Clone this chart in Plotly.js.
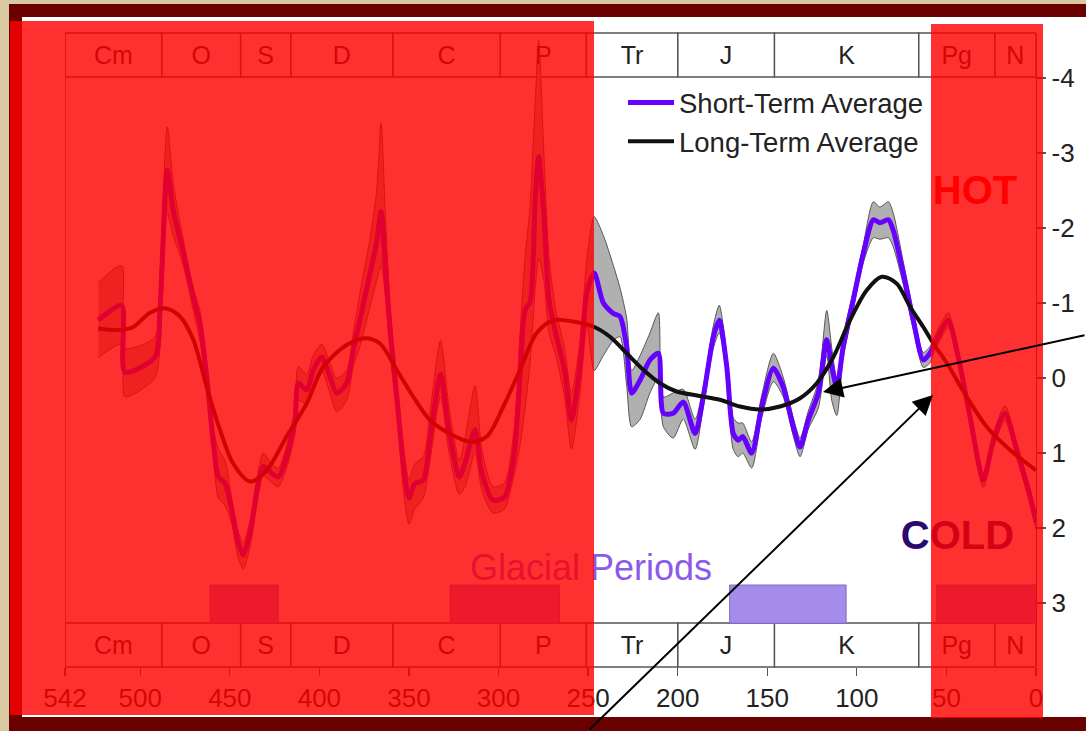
<!DOCTYPE html>
<html>
<head>
<meta charset="utf-8">
<script src="https://cdn.plot.ly/plotly-3.0.1.min.js"></script>
<style>
  html, body { margin: 0; padding: 0; background: #d9c9a3; }
  #chart { width: 1086px; height: 731px; }
</style>
</head>
<body>
<div id="chart"></div>
<script>
// ---------------- DATA ----------------
// Geologic periods (Ma)
const periodNames = ['Cm', 'O', 'S', 'D', 'C', 'P', 'Tr', 'J', 'K', 'Pg', 'N'];
const periodStart = [542, 488, 444, 416, 359, 299, 251, 200, 146, 65.5, 23];
const periodEnd   = [488, 444, 416, 359, 299, 251, 200, 146, 65.5, 23, 0];

// Glacial periods (Ma)
const glacialStart = [461, 327, 171, 55.4];
const glacialEnd   = [423, 266, 106, 0];

// Short-term average (age Ma, temperature anomaly)
const shortAges = [
  523.4, 510.4, 508.5, 491.8, 489.0, 484.9, 481.6, 476.0, 470.4, 466.7,
  462.9, 459.2, 456.4, 452.7, 448.9, 445.3, 442.5, 438.7, 435.0, 431.3,
  426.6, 422.9, 418.3, 413.6, 411.8, 407.1, 403.4, 398.7, 394.1, 390.4,
  384.8, 381.1, 377.6, 371.8, 368.0, 365.6, 363.2, 360.3, 356.4, 352.6,
  350.0, 346.8, 342.0, 338.2, 332.4, 327.6, 321.9, 318.7, 313.1, 309.3,
  303.1, 296.8, 291.4, 288.0, 285.2, 282.4, 279.5, 277.6, 274.7, 271.8,
  268.0, 263.2, 259.3, 254.5, 250.6, 246.6, 241.5, 235.9, 232.2, 228.5,
  225.7, 221.0, 215.5, 210.8, 208.0, 202.5, 196.9, 190.3, 185.7, 180.1,
  176.8, 172.6, 169.0, 166.2, 163.7, 158.7, 153.1, 146.6, 141.1, 135.5,
  131.7, 127.1, 121.5, 116.8, 114.0, 111.2, 107.6, 102.0, 96.4, 90.8,
  87.1, 82.4, 79.7, 74.1, 68.5, 62.9, 59.2, 57.3, 53.6, 49.0,
  43.4, 36.8, 29.4, 23.8, 17.3, 10.8, 3.3, 0.0
];
const shortVals = [
  -0.77, -0.97, -0.08, -0.28, -0.91, -2.77, -2.24, -1.67, -1.08, -0.73,
  -0.02, 0.87, 1.32, 1.40, 1.76, 2.20, 2.36, 2.07, 1.53, 1.18,
  1.27, 1.32, 1.05, 0.56, 0.07, 0.16, -0.11, -0.28, -0.02, 0.20,
  0.07, -0.37, -0.75, -1.39, -1.81, -2.22, -1.49, -0.57, 0.35, 1.27,
  1.60, 1.41, 1.36, 0.81, -0.05, 0.72, 1.32, 1.13, 0.69, 1.27,
  1.63, 1.59, 1.04, -0.03, -0.91, -1.01, -2.40, -2.95, -2.17, -1.03,
  -0.59, -0.11, 0.56, -0.17, -1.15, -1.40, -1.00, -0.86, -0.82, -0.42,
  0.20, 0.03, -0.24, -0.33, 0.47, 0.47, 0.32, 0.74, 0.25, -0.55,
  -0.77, -0.15, 0.74, 0.83, 0.78, 1.00, 0.38, -0.13, 0.12, 0.65,
  0.92, 0.56, 0.20, -0.51, -0.15, 0.12, -0.42, -1.04, -1.66, -2.11,
  -2.07, -2.11, -1.97, -1.40, -0.77, -0.24, -0.33, -0.42, -0.60, -0.77,
  -0.28, 0.52, 1.36, 0.83, 0.47, 0.96, 1.58, 1.92
];
// Uncertainty band of the short-term average
const bandHot = [
  -1.27, -1.50, -0.40, -0.55, -1.40, -3.35, -2.60, -1.85, -1.20, -0.90,
  -0.15, 0.65, 0.95, 1.10, 1.60, 2.05, 2.20, 1.90, 1.35, 1.00,
  1.15, 1.20, 0.90, 0.40, -0.15, -0.05, -0.30, -0.45, -0.20, 0.00,
  -0.10, -0.60, -1.10, -1.85, -2.50, -3.40, -2.20, -0.90, 0.10, 1.00,
  1.35, 1.15, 1.05, 0.45, -0.50, 0.40, 1.10, 0.80, 0.10, 0.95,
  1.45, 1.40, 0.70, -0.60, -1.60, -2.30, -3.70, -4.50, -3.00, -1.60,
  -0.90, -0.40, 0.20, -0.50, -1.60, -2.15, -1.90, -1.50, -1.20, -0.80,
  -0.10, -0.30, -0.60, -0.87, 0.25, 0.20, 0.15, 0.55, 0.12, -0.70,
  -0.97, -0.30, 0.53, 0.60, 0.60, 0.85, 0.23, -0.33, -0.01, 0.53,
  0.80, 0.44, 0.05, -0.90, -0.40, 0.00, -0.57, -1.16, -1.78, -2.35,
  -2.28, -2.35, -2.20, -1.55, -0.89, -0.34, -0.42, -0.52, -0.70, -0.87,
  -0.38, 0.42, 1.26, 0.73, 0.37, 0.86, 1.48, 1.82
];
const bandCold = [
  -0.27, -0.45, 0.25, 0.00, -0.40, -2.20, -1.90, -1.50, -0.90, -0.50,
  0.15, 1.05, 1.60, 1.70, 1.95, 2.40, 2.55, 2.25, 1.70, 1.30,
  1.40, 1.45, 1.20, 0.75, 0.30, 0.35, 0.10, -0.10, 0.20, 0.45,
  0.30, -0.15, -0.40, -0.95, -1.30, -1.50, -1.10, -0.30, 0.60, 1.60,
  1.95, 1.75, 1.60, 1.10, 0.25, 1.00, 1.55, 1.45, 1.00, 1.50,
  1.80, 1.75, 1.30, 0.90, 0.40, -0.20, -1.20, -1.60, -1.30, -0.60,
  -0.30, 0.25, 0.95, 0.20, -0.70, -0.10, -0.30, -0.50, -0.55, 0.10,
  0.65, 0.55, 0.20, 0.00, 0.65, 0.80, 0.55, 0.95, 0.38, -0.40,
  -0.60, 0.00, 0.95, 1.05, 1.00, 1.20, 0.53, 0.05, 0.25, 0.77,
  1.05, 0.68, 0.40, -0.30, 0.30, 0.50, -0.27, -0.92, -1.54, -1.87,
  -1.85, -1.87, -1.75, -1.25, -0.65, -0.14, -0.20, -0.32, -0.50, -0.67,
  -0.18, 0.62, 1.46, 0.93, 0.57, 1.06, 1.68, 2.02
];

// Long-term average
const longAges = [
  523.4, 511.3, 503.9, 494.6, 486.2, 477.8, 470.4, 462.9, 455.5, 448.1,
  438.7, 429.4, 418.3, 407.1, 397.8, 384.8, 374.5, 366.2, 356.9, 347.6,
  338.3, 328.9, 315.9, 306.6, 297.3, 288.0, 278.7, 269.4, 260.1, 246.6,
  237.8, 228.5, 219.2, 209.9, 200.6, 187.6, 176.4, 165.2, 154.1, 142.9,
  131.7, 122.4, 113.1, 103.8, 94.5, 86.1, 77.8, 70.3, 62.9, 57.3,
  49.8, 38.7, 27.5, 14.5, 0.0
];
const longVals = [
  -0.66, -0.64, -0.68, -0.87, -0.93, -0.82, -0.51, 0.12, 0.69, 1.14,
  1.38, 1.23, 0.78, 0.34, -0.15, -0.44, -0.53, -0.46, -0.11, 0.25,
  0.56, 0.72, 0.85, 0.78, 0.38, -0.11, -0.60, -0.77, -0.76, -0.68,
  -0.55, -0.33, -0.11, 0.07, 0.18, 0.24, 0.29, 0.38, 0.42, 0.38,
  0.27, 0.07, -0.28, -0.77, -1.17, -1.35, -1.26, -0.95, -0.68, -0.46,
  -0.20, 0.25, 0.65, 0.96, 1.23
];

// Axis ticks
const xTickVals = [542, 500, 450, 400, 350, 300, 250, 200, 150, 100, 50, 0];
const xTickText = ['542', '500', '450', '400', '350', '300', '250', '200', '150', '100', '50', '0'];
const yTickVals = [-4, -3, -2, -1, 0, 1, 2, 3];
const yTickText = ['-4', '-3', '-2', '-1', '0', '1', '2', '3'];

// Chart labels
const seriesNames = ['Short-Term Average', 'Long-Term Average'];
const hotLabel = 'HOT';
const coldLabel = 'COLD';
const glacialLabel = 'Glacial Periods';

// ---------------- LAYOUT HELPERS ----------------
const W = 1086, H = 731;
const M = { l: 65, r: 50, t: 33, b: 64 };
const PW = W - M.l - M.r, PH = H - M.t - M.b;
const px = v => (v - M.l) / PW;           // pixel x -> paper
const py = v => (H - M.b - v) / PH;       // pixel y -> paper

const FONT = 'Liberation Sans, Arial, Helvetica, sans-serif';
const TOPBAR_Y = -4.27, BOTBAR_Y = 3.6;

const shapes = [];
// Maroon frame and white chart sheet
shapes.push({ type: 'rect', xref: 'paper', yref: 'paper', x0: px(9), x1: px(1086), y0: py(731), y1: py(4),
  fillcolor: '#6b0000', line: { width: 0 }, layer: 'below' });
shapes.push({ type: 'rect', xref: 'paper', yref: 'paper', x0: px(22), x1: px(1086), y0: py(717), y1: py(17),
  fillcolor: '#ffffff', line: { width: 0 }, layer: 'below' });

// Period boxes (top and bottom)
periodNames.forEach((n, i) => {
  [[py(77), py(33)], [py(667), py(623)]].forEach(([y0, y1]) => {
    shapes.push({ type: 'rect', xref: 'x', yref: 'paper', x0: periodStart[i], x1: periodEnd[i], y0: y0, y1: y1,
      fillcolor: 'rgba(255,255,255,0)', line: { color: '#555', width: 1.3 }, layer: 'below' });
  });
});
// Left border line of plot
shapes.push({ type: 'line', xref: 'x', yref: 'paper', x0: 542, x1: 542, y0: 0, y1: 1,
  line: { color: '#555', width: 1.3 }, layer: 'below' });

// Glacial period bars
glacialStart.forEach((s, i) => {
  shapes.push({ type: 'rect', xref: 'x', yref: 'y', x0: s, x1: glacialEnd[i], y0: 2.76, y1: 3.27,
    fillcolor: '#a58ceb', line: { color: '#7d6cc0', width: 1 }, layer: 'below' });
});

// Red semi-transparent overlays
shapes.push({ type: 'rect', xref: 'paper', yref: 'paper', x0: px(10), x1: px(594), y0: py(715), y1: py(21),
  fillcolor: 'rgba(255,0,0,0.81)', line: { width: 0 }, layer: 'above' });
shapes.push({ type: 'rect', xref: 'paper', yref: 'paper', x0: px(931), x1: px(1043), y0: py(718), y1: py(24),
  fillcolor: 'rgba(255,0,0,0.81)', line: { width: 0 }, layer: 'above' });

// ---------------- TRACES ----------------
const periodMid = periodStart.map((s, i) => (s + periodEnd[i]) / 2);
const traces = [
  { x: shortAges, y: bandHot, type: 'scatter', mode: 'lines', line: { color: '#555', width: 1, shape: 'spline', smoothing: 0.7 },
    showlegend: false, hoverinfo: 'skip' },
  { x: shortAges, y: bandCold, type: 'scatter', mode: 'lines', fill: 'tonexty', fillcolor: '#b0b0b0',
    line: { color: '#555', width: 1, shape: 'spline', smoothing: 0.7 }, showlegend: false, hoverinfo: 'skip' },
  { x: shortAges, y: shortVals, type: 'scatter', mode: 'lines', name: seriesNames[0],
    line: { color: '#6600ff', width: 5, shape: 'spline', smoothing: 0.7 } },
  { x: longAges, y: longVals, type: 'scatter', mode: 'lines', name: seriesNames[1],
    line: { color: '#111111', width: 4, shape: 'spline', smoothing: 0.9 } },
  // period labels
  { x: periodMid, y: periodNames.map(() => TOPBAR_Y), text: periodNames, type: 'scatter', mode: 'text',
    textfont: { family: FONT, size: 25, color: '#222' }, showlegend: false, hoverinfo: 'skip', cliponaxis: false },
  { x: periodMid, y: periodNames.map(() => BOTBAR_Y), text: periodNames, type: 'scatter', mode: 'text',
    textfont: { family: FONT, size: 25, color: '#222' }, showlegend: false, hoverinfo: 'skip', cliponaxis: false },
  // HOT / COLD / Glacial labels
  { x: [34], y: [-2.45], text: ['<b>' + hotLabel + '</b>'], type: 'scatter', mode: 'text',
    textfont: { family: FONT, size: 40, color: '#ff0000' }, showlegend: false, hoverinfo: 'skip' },
  { x: [43.8], y: [2.15], text: ['<b>' + coldLabel + '</b>'], type: 'scatter', mode: 'text',
    textfont: { family: FONT, size: 40, color: '#2a0a6e' }, showlegend: false, hoverinfo: 'skip' },
  { x: [248.4], y: [2.57], text: [glacialLabel], type: 'scatter', mode: 'text',
    textfont: { family: FONT, size: 36, color: '#8a5ae8' }, showlegend: false, hoverinfo: 'skip' }
];

const layout = {
  width: W, height: H,
  margin: M,
  paper_bgcolor: '#d9c9a3',
  plot_bgcolor: '#ffffff',
  font: { family: FONT, color: '#222' },
  showlegend: true,
  legend: { x: px(623), y: py(78), xanchor: 'left', yanchor: 'top', bgcolor: 'rgba(0,0,0,0)',
    traceorder: 'normal', itemwidth: 46,
    font: { family: FONT, size: 27.5, color: '#222' }, tracegroupgap: 0 },
  xaxis: {
    range: [542, 0], showgrid: false, zeroline: false,
    tickmode: 'array', tickvals: xTickVals, ticktext: xTickText,
    ticks: 'outside', ticklen: 8, tickwidth: 1.3, tickcolor: '#555',
    tickfont: { family: FONT, size: 26, color: '#222' },
    showline: false
  },
  yaxis: {
    range: [3.853, -4.6], side: 'right', showgrid: false, zeroline: false,
    tickmode: 'array', tickvals: yTickVals, ticktext: yTickText,
    ticks: 'outside', ticklen: 9, tickwidth: 1.3, tickcolor: '#555',
    tickfont: { family: FONT, size: 26, color: '#222' },
    showline: true, linecolor: '#555', linewidth: 1.3
  },
  shapes: shapes,
  annotations: [
    { xref: 'paper', yref: 'paper', x: px(823), y: py(392), axref: 'pixel', ayref: 'pixel', ax: 263, ay: -57,
      text: '', showarrow: true, arrowhead: 2, arrowsize: 2, arrowwidth: 2, arrowcolor: '#000', standoff: 0 },
    { xref: 'paper', yref: 'paper', x: px(933), y: py(395), axref: 'pixel', ayref: 'pixel', ax: -345, ay: 336,
      text: '', showarrow: true, arrowhead: 2, arrowsize: 2, arrowwidth: 2, arrowcolor: '#000', standoff: 0 }
  ]
};

Plotly.newPlot('chart', traces, layout, { displayModeBar: false, staticPlot: true });
</script>
</body>
</html>
